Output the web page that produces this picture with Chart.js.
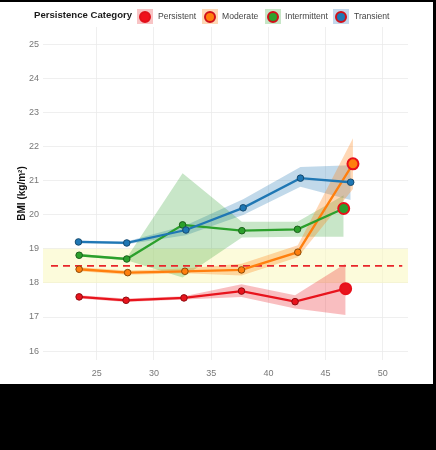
<!DOCTYPE html>
<html lang="en">
<head>
    <meta charset="UTF-8">
    <title>BMI by Persistence Category</title>
    <script src="https://cdn.jsdelivr.net/npm/chart.js"></script>
    <style>
        html, body { margin: 0; padding: 0; background: #000; }
        body { width: 436px; height: 450px; position: relative; overflow: hidden; }
        .panel { position: absolute; left: 0; top: 2px; width: 433px; height: 382px; background: #fff; }
        .panel canvas { position: absolute; left: 0; top: 0; }
        .legend { position: absolute; left: 0; top: 0; width: 433px; height: 26px; font-family: "Liberation Sans", Arial, sans-serif; z-index: 2; }
        .legend .title { position: absolute; left: 34px; top: 7px; font-weight: bold; font-size: 9.6px; color: #1a1a1a; white-space: nowrap; }
        .legend .key { position: absolute; top: 7px; width: 16px; height: 15px; }
        .legend .key i { position: absolute; left: 2px; top: 1.5px; width: 8px; height: 8px; border-radius: 50%; border: 2px solid #d0101a; }
        .legend .lab { position: absolute; top: 8.5px; font-size: 8.6px; color: #444; white-space: nowrap; }
    </style>
</head>
<body>
    <div class="panel">
        <div class="legend">
            <span class="title">Persistence Category</span>
            <span class="key" style="left:137px;background:#f8c4c5"><i style="background:#f0101c;border-color:#e0101a"></i></span>
            <span class="lab" style="left:158px">Persistent</span>
            <span class="key" style="left:202px;background:#fdd8b6"><i style="background:#ff7f0e"></i></span>
            <span class="lab" style="left:222px">Moderate</span>
            <span class="key" style="left:265px;background:#c6e6c6"><i style="background:#2ca02c"></i></span>
            <span class="lab" style="left:285px">Intermittent</span>
            <span class="key" style="left:333px;background:#c3d8ec"><i style="background:#1f77b4"></i></span>
            <span class="lab" style="left:354px">Transient</span>
        </div>
        <canvas id="bmiChart" width="433" height="382"></canvas>
    </div>

    <script>
        // ages (x) and BMI means / ribbon bounds
        const agePersistent = [23.46, 27.56, 32.62, 37.65, 42.33, 46.75];
        const bmiPersistent = [17.59, 17.49, 17.56, 17.76, 17.45, 17.83];
        const lowPersistent = [17.54, 17.44, 17.51, 17.59, 17.25, 17.06];
        const highPersistent = [17.64, 17.54, 17.61, 17.96, 17.64, 18.57];

        const ageModerate = [23.46, 27.70, 32.70, 37.65, 42.57, 47.39];
        const bmiModerate = [18.40, 18.30, 18.34, 18.38, 18.90, 21.49];
        const lowModerate = [18.34, 18.24, 18.28, 18.22, 18.75, 20.75];
        const highModerate = [18.46, 18.36, 18.42, 18.56, 19.10, 22.24];

        const ageIntermittent = [23.46, 27.62, 32.50, 37.68, 42.54, 46.58];
        const bmiIntermittent = [18.81, 18.70, 19.70, 19.53, 19.57, 20.18];
        const lowIntermittent = [18.77, 18.66, 18.16, 19.33, 19.35, 19.35];
        const highIntermittent = [18.85, 18.74, 21.21, 19.79, 19.79, 20.57];

        const ageTransient = [23.40, 27.62, 32.79, 37.79, 42.80, 47.19];
        const bmiTransient = [19.20, 19.17, 19.55, 20.20, 21.07, 20.95];
        const lowTransient = [19.16, 19.13, 19.40, 19.99, 20.82, 20.43];
        const highTransient = [19.24, 19.21, 19.69, 20.45, 21.40, 21.45];

        const xRange = [20.3, 52.2];
        const yRange = [15.74, 25.5];
        const xTicks = [25, 30, 35, 40, 45, 50];
        const yTicks = [16, 17, 18, 19, 20, 21, 22, 23, 24, 25];
        const underweightBand = [18, 19];
        const underweightCut = 18.5;

        const pts = (xs, ys) => xs.map((x, i) => ({ x: x, y: ys[i] }));

        function series(label, ages, mean, low, high, color, edge, fillCol, bigLast, order) {
            const n = ages.length;
            const radius = ages.map((a, i) => (bigLast && i === n - 1) ? 5.5 : 3.3);
            const bCol = ages.map((a, i) => (bigLast && i === n - 1) ? '#e8101a' : edge);
            const bW = ages.map((a, i) => (bigLast && i === n - 1) ? 2 : 1);
            return [
                { label: label + ' hi', data: pts(ages, high), fill: '+1', backgroundColor: fillCol,
                  borderWidth: 0, borderColor: 'transparent', pointRadius: 0, tension: 0, order: 40 },
                { label: label + ' lo', data: pts(ages, low), fill: false,
                  borderWidth: 0, borderColor: 'transparent', pointRadius: 0, tension: 0, order: 40 },
                { label: label, data: pts(ages, mean), fill: false, borderColor: color, borderWidth: 2.3,
                  pointBackgroundColor: color, pointBorderColor: bCol, pointBorderWidth: bW,
                  pointRadius: radius, tension: 0, order: order }
            ];
        }

        const datasets = [
            { label: 'band hi', data: pts(xRange, [underweightBand[1], underweightBand[1]]), fill: '+1',
              backgroundColor: 'rgba(250,248,190,0.55)', borderWidth: 0, borderColor: 'transparent', pointRadius: 0, order: 100 },
            { label: 'band lo', data: pts(xRange, [underweightBand[0], underweightBand[0]]), fill: false,
              borderWidth: 0, borderColor: 'transparent', pointRadius: 0, order: 100 },
            { label: 'cut', data: pts([21.0, 51.7], [underweightCut, underweightCut]), fill: false,
              borderColor: '#e8262b', borderWidth: 1.7, borderDash: [7, 5], pointRadius: 0, order: 50 },
            ...series('Persistent', agePersistent, bmiPersistent, lowPersistent, highPersistent,
                      '#e8141d', '#8e0c10', 'rgba(232,20,29,0.28)', true, 4),
            ...series('Moderate', ageModerate, bmiModerate, lowModerate, highModerate,
                      '#ff7f0e', '#8a4a08', 'rgba(255,127,14,0.30)', true, 3),
            ...series('Intermittent', ageIntermittent, bmiIntermittent, lowIntermittent, highIntermittent,
                      '#2ca02c', '#1b5e1b', 'rgba(44,160,44,0.26)', true, 2),
            ...series('Transient', ageTransient, bmiTransient, lowTransient, highTransient,
                      '#1f77b4', '#164a6e', 'rgba(31,119,180,0.28)', false, 1)
        ];

        const tickFont = { family: '"Liberation Sans", Arial, sans-serif', size: 9 };

        new Chart(document.getElementById('bmiChart'), {
            type: 'line',
            data: { datasets: datasets },
            options: {
                responsive: false,
                animation: false,
                layout: { padding: { top: 25, right: 25, left: 0, bottom: 0 } },
                plugins: {
                    legend: { display: false },
                    tooltip: { enabled: false },
                    filler: { drawTime: 'beforeDatasetsDraw' }
                },
                scales: {
                    x: {
                        type: 'linear',
                        min: xRange[0],
                        max: xRange[1],
                        afterBuildTicks: s => { s.ticks = xTicks.map(v => ({ value: v })); },
                        afterFit: s => { s.height = 24; },
                        grid: { color: '#ebebeb', lineWidth: 0.8, drawTicks: false },
                        border: { display: false },
                        ticks: { font: tickFont, color: '#777', padding: 8 }
                    },
                    y: {
                        min: yRange[0],
                        max: yRange[1],
                        afterBuildTicks: s => { s.ticks = yTicks.map(v => ({ value: v })); },
                        afterFit: s => { s.width = 43; },
                        grid: { color: '#ebebeb', lineWidth: 0.8, drawTicks: false },
                        border: { display: false },
                        ticks: { font: tickFont, color: '#777', padding: 4 },
                        title: {
                            display: true,
                            text: 'BMI (kg/m²)',
                            color: '#111',
                            font: { family: '"Liberation Sans", Arial, sans-serif', size: 10, weight: 'bold' },
                            padding: { top: 16, bottom: 0 }
                        }
                    }
                }
            }
        });
    </script>
</body>
</html>
